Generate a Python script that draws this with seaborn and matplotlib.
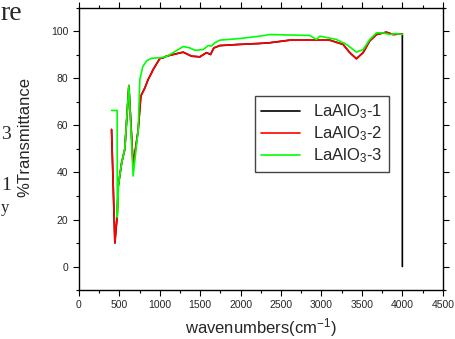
import matplotlib
matplotlib.use('Agg')
import pandas as pd
import seaborn as sns
from matplotlib import pyplot as plt
from matplotlib.ticker import MultipleLocator

# Values
red_x = [404, 445, 473, 486, 528, 568, 618, 671, 733, 766, 816, 857, 899, 918, 1001, 1042,
         1083, 1166, 1290, 1392, 1496, 1578, 1628, 1669, 1743, 1990, 2237, 2361, 2608, 3103,
         3267, 3350, 3432, 3515, 3597, 3680, 3803, 3885, 4000]
red_y = [58.3, 10, 21.4, 34, 44, 50, 77, 43, 58, 72.5, 76, 79.6, 82.4, 83.8, 88.5, 88.8,
         89.5, 90.2, 91.2, 89.5, 89.2, 91, 90.2, 93, 94, 94.5, 94.9, 95.2, 96.3, 96.3,
         94.5, 91, 88.4, 91, 96, 98.7, 99.7, 98.7, 99]

# sample 1 follows sample 2 and drops to zero at 4000
black_x = red_x + [4000]
black_y = red_y + [0]

green_x = [404, 473, 475, 490, 528, 568, 618, 671, 733, 754, 790, 837, 899, 1001, 1080,
           1166, 1290, 1372, 1434, 1537, 1598, 1640, 1681, 1743, 1990, 2237, 2361, 2855,
           2938, 2979, 3185, 3309, 3432, 3515, 3597, 3680, 3762, 3844, 3927, 4000]
green_y = [66.4, 66.4, 21, 35, 44, 50, 77, 38.5, 58, 79.6, 85, 87.5, 88.6, 88.8, 89.3,
           91, 93.6, 93, 92, 92.3, 94, 93.8, 95.2, 96.3, 97, 98, 98.7, 98.3,
           96.6, 98, 96.6, 94.5, 91.2, 92.3, 96.6, 99.4, 99.4, 98.7, 99.1, 98.7]

labels = ['LaAlO$_3$-1', 'LaAlO$_3$-2', 'LaAlO$_3$-3']

sns.set_style('ticks')
plt.rcParams['font.family'] = ['Liberation Sans', 'DejaVu Sans']
plt.rcParams['mathtext.fontset'] = 'custom'
plt.rcParams['mathtext.rm'] = 'Liberation Sans'
plt.rcParams['mathtext.it'] = 'Liberation Sans'

fig = plt.figure(figsize=(4.56, 3.39), dpi=100)
ax = fig.add_axes([0.173, 0.1445, 0.798, 0.832])

series = [(black_x, black_y, '#000000'), (red_x, red_y, '#ff0000'), (green_x, green_y, '#00ff00')]
for (xs, ys, col), lab in zip(series, labels):
    df = pd.DataFrame({'x': xs, 'y': ys})
    sns.lineplot(data=df, x='x', y='y', sort=False, estimator=None, color=col,
                 linewidth=1.2, label=lab, ax=ax)

ax.set_xlim(0, 4500)
ax.set_ylim(-10, 110)
ax.xaxis.set_major_locator(MultipleLocator(500))
ax.xaxis.set_minor_locator(MultipleLocator(250))
ax.yaxis.set_major_locator(MultipleLocator(20))
ax.yaxis.set_minor_locator(MultipleLocator(10))
ax.tick_params(which='both', direction='out', top=True, right=True, labelsize=7.5, color='black')
ax.tick_params(which='major', length=4, width=0.8)
ax.tick_params(which='minor', length=2, width=0.8)
for sp in ax.spines.values():
    sp.set_color('black')
    sp.set_linewidth(1.0)

ax.set_xlabel('wavenumbers(cm$^{-1}$)', fontsize=12)
ax.set_ylabel('%Transmittance', fontsize=12)
ax.xaxis.set_label_coords(0.5, -0.093)
ax.yaxis.set_label_coords(-0.128, 0.543)

leg = ax.legend(loc='upper left', bbox_to_anchor=(0.4835, 0.688), borderaxespad=0,
                fontsize=12, handlelength=2.3, labelspacing=0.2, fancybox=False,
                frameon=True, framealpha=1, edgecolor='#444444', borderpad=0.4)
leg.get_frame().set_linewidth(1.0)

# text from the surrounding page
fig.text(0.002, 1 - 1 / 339, 're', fontsize=20, family='Liberation Serif', va='top', ha='left')
fig.text(0.002, 1 - 135 / 339, '3', fontsize=14, family='Liberation Serif', va='center', ha='left')
fig.text(0.002, 1 - 185 / 339, '1', fontsize=14, family='Liberation Serif', va='center', ha='left')
fig.text(0.002, 1 - 208 / 339, 'y', fontsize=12, family='Liberation Serif', va='center', ha='left')

fig.savefig('out.png', dpi=100)
